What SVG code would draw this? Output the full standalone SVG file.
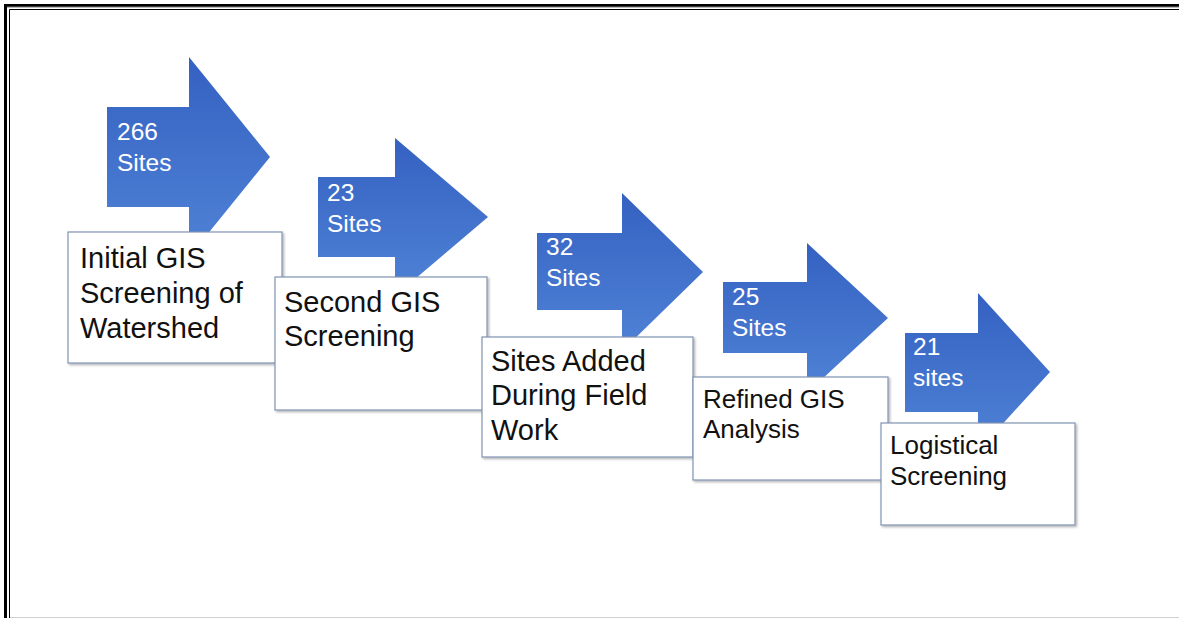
<svg xmlns="http://www.w3.org/2000/svg" width="1179" height="618" viewBox="0 0 1179 618">
<style>
.arrow{fill:url(#ag);}
.num{font-family:"Liberation Sans",Arial,sans-serif;font-size:24.5px;fill:#ffffff;}
.box{fill:#ffffff;stroke:#8093b3;stroke-width:1.2;filter:url(#sh);}
.lbl{font-family:"Liberation Sans",Arial,sans-serif;font-size:29px;fill:#111111;}
.lbs{font-family:"Liberation Sans",Arial,sans-serif;font-size:26px;fill:#111111;}
</style>
<defs>
<linearGradient id="ag" x1="0" y1="0" x2="0" y2="1">
<stop offset="0" stop-color="#3561c2"/>
<stop offset="1" stop-color="#4f83d6"/>
</linearGradient>
<filter id="sh" x="-5%" y="-5%" width="115%" height="115%">
<feDropShadow dx="1.5" dy="1.5" stdDeviation="1.2" flood-color="#000" flood-opacity="0.3"/>
</filter>
</defs>
<rect width="1179" height="618" fill="#ffffff"/>
<g id="frame" fill="none">
<path d="M5.5 618 V5.5 H1179" stroke="#000" stroke-width="3"/>
<path d="M9.5 618 V9.5 H1179" stroke="#000" stroke-width="1"/>
<path d="M7 7 H1179" stroke="#777" stroke-width="1"/>
<path d="M10 617.5 H1179" stroke="#d0d0d0" stroke-width="1"/>
</g>
<g id="connectors"></g>
<g id="node1">
<path class="arrow" d="M107 107 H189 V57 L270 157 L189 257 V207 H107 Z"/>
<text class="num" x="117" y="140">266</text>
<text class="num" x="117" y="171">Sites</text>
<rect class="box" x="68" y="232" width="214" height="131"/>
<text class="lbl" x="80" y="268">Initial GIS</text>
<text class="lbl" x="80" y="303">Screening of</text>
<text class="lbl" x="80" y="338">Watershed</text>
</g>
<g id="node2">
<path class="arrow" d="M318 177 H395 V138 L488 217 L395 296 V257 H318 Z"/>
<text class="num" x="327" y="201">23</text>
<text class="num" x="327" y="232">Sites</text>
<rect class="box" x="275" y="277" width="212" height="133"/>
<text class="lbl" x="284" y="312">Second GIS</text>
<text class="lbl" x="284" y="346">Screening</text>
</g>
<g id="node3">
<path class="arrow" d="M537 233 H622 V193 L703 272 L622 351 V310 H537 Z"/>
<text class="num" x="546" y="255">32</text>
<text class="num" x="546" y="286">Sites</text>
<rect class="box" x="482" y="337" width="211" height="120"/>
<text class="lbl" x="491" y="371">Sites Added</text>
<text class="lbl" x="491" y="405">During Field</text>
<text class="lbl" x="491" y="440">Work</text>
</g>
<g id="node4">
<path class="arrow" d="M723 282 H807 V243 L888 318 L807 393 V353 H723 Z"/>
<text class="num" x="732" y="305">25</text>
<text class="num" x="732" y="336">Sites</text>
<rect class="box" x="693" y="377" width="195" height="103"/>
<text class="lbs" x="703" y="408">Refined GIS</text>
<text class="lbs" x="703" y="438">Analysis</text>
</g>
<g id="node5">
<path class="arrow" d="M905 333 H978 V293 L1050 372 L978 451 V412 H905 Z"/>
<text class="num" x="913" y="355">21</text>
<text class="num" x="913" y="386">sites</text>
<rect class="box" x="881" y="423" width="194" height="102"/>
<text class="lbs" x="890" y="454">Logistical</text>
<text class="lbs" x="890" y="485">Screening</text>
</g>
</svg>
